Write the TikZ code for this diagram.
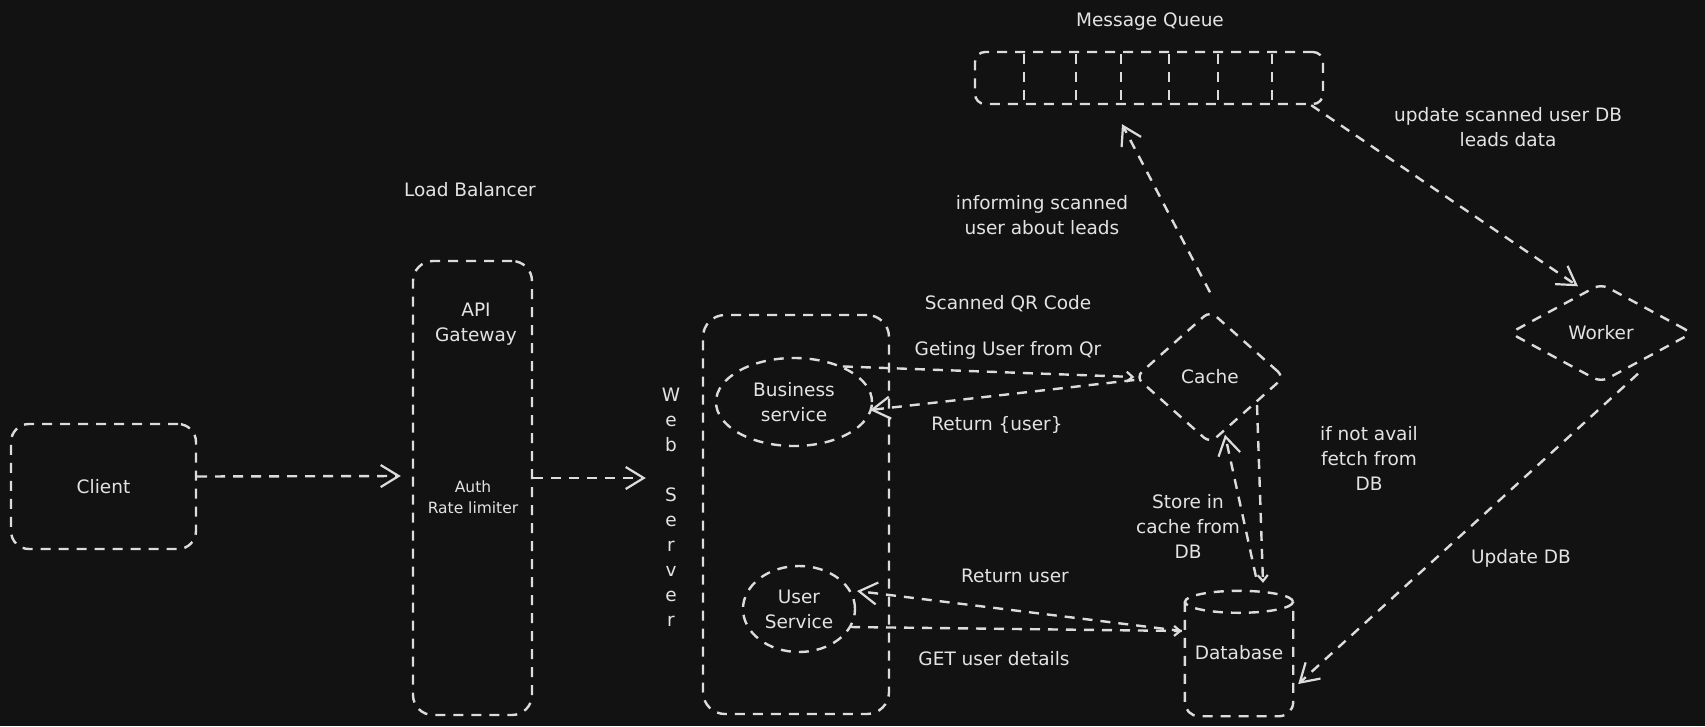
\documentclass[tikz,border=0pt]{standalone}
\usepackage{fontspec}
\setmainfont{DejaVu Sans}
\usetikzlibrary{arrows.meta,shapes.geometric,calc}
\definecolor{bg}{HTML}{121212}
\definecolor{ink}{HTML}{DCDCDC}
\definecolor{txt}{HTML}{E3E3E3}
\tikzset{
 dsh/.style={draw=ink, line width=2.4pt, dash pattern=on 10pt off 8pt},
 box/.style={dsh, rectangle, rounded corners=18pt, inner sep=0pt},
 lbl/.style={text=txt, font=\fontsize{18.5}{25}\selectfont, align=center, inner sep=0pt},
 slbl/.style={text=txt, font=\fontsize{15.5}{21}\selectfont, align=center, inner sep=0pt},
 arr/.style={dsh, -{Straight Barb[length=18pt,width=22pt,line width=2.2pt]}},
 sarr/.style={dsh, -{Straight Barb[length=6pt,width=10pt,line width=2.2pt]}},
}
\begin{document}
\begin{tikzpicture}[x=1pt,y=-1pt]
\fill[bg] (0,0) rectangle (1705,726);
\useasboundingbox (0,0) rectangle (1705,726);

% nodes
\node[box, minimum width=185pt, minimum height=125pt, lbl] (client) at (103.5,486.5) {Client};
\node[box, rounded corners=20pt, minimum width=119pt, minimum height=454pt] (api) at (472.5,488) {};
\node[box, rounded corners=22pt, minimum width=186pt, minimum height=399pt] (ws) at (796,514.5) {};
\node[dsh, ellipse, minimum width=156pt, minimum height=88pt, inner sep=0pt, lbl] (biz) at (794,402) {Business\\service};
\node[dsh, ellipse, minimum width=112pt, minimum height=86pt, inner sep=0pt, lbl] (usr) at (799,609) {User\\Service};
\node[dsh, diamond, rounded corners=8pt, minimum width=149pt, minimum height=133pt, inner sep=0pt, lbl] (cache) at (1210,377) {Cache};
\node[dsh, diamond, rounded corners=8pt, minimum width=183pt, minimum height=99pt, inner sep=0pt, lbl] (worker) at (1601,333) {Worker};
\node[box, rounded corners=10pt, minimum width=348pt, minimum height=52pt] (queue) at (1149,78) {};
\node[minimum width=108pt, minimum height=126pt, inner sep=0pt, lbl] (db) at (1239,653) {Database};

% queue cells
\foreach \qx in {1024,1076,1121,1169,1218,1272}
  \draw[dsh] (\qx,54) -- (\qx,102);

% database cylinder
\draw[dsh] ($(db.north)+(0,12)$) ellipse [x radius=54pt, y radius=11pt];
\draw[dsh, rounded corners=14pt] ($(db.north west)+(0,12)$) -- (db.south west) -- (db.south east) -- ($(db.north east)+(0,12)$);

% labels
\node[lbl] (lmq) at (1150,22) {Message Queue};
\node[lbl] (llb) at (470,190) {Load Balancer};
\node[lbl] (lapi) at (476,324) {API\\Gateway};
\node[slbl] (lauth) at (473,497) {Auth\\Rate limiter};
\node[lbl] (lws) at (671,507) {W\\e\\b\\[25pt]S\\e\\r\\v\\e\\r};
\node[lbl] (lqr) at (1008,304) {Scanned QR Code};
\node[lbl] (lget) at (1008,350) {Geting User from Qr};
\node[lbl] (lret) at (997,425) {Return \{user\}};
\node[lbl] (lretu) at (1015,576) {Return user};
\node[lbl] (lgetu) at (994,659) {GET user details};
\node[lbl] (linf) at (1042,215) {informing scanned\\user about leads};
\node[lbl] (lupd) at (1508,127) {update scanned user DB\\leads data};
\node[lbl] (lnot) at (1369,458) {if not avail\\fetch from\\DB};
\node[lbl] (lsto) at (1188,526) {Store in\\cache from\\DB};
\node[lbl] (lupdb) at (1521,558) {Update DB};

% connectors
\draw[arr] ([yshift=10pt]client.east) -- ([xshift=-11pt,yshift=12pt]api.west);
\draw[arr] ([yshift=10pt]api.east) -- ([xshift=-56pt,yshift=36.5pt]ws.west);
\draw[sarr] (biz.36) -- (cache.west);
\draw[arr] ([yshift=-3pt]cache.west) -- ([xshift=76pt,yshift=-8pt]biz.center);
\draw[arr] ([yshift=17pt]cache.north) -- ([xshift=-27pt,yshift=-19pt]queue.south);
\draw[arr] ([xshift=-13pt]queue.south east) -- ([xshift=-23pt,yshift=-4pt]worker.north);
\draw[arr] ([xshift=37pt,yshift=10pt]worker.south) -- ([xshift=5pt,yshift=-31pt]db.east);
\draw[sarr] ([xshift=47pt,yshift=-28pt]cache.center) -- ([xshift=24pt,yshift=7pt]db.north);
\draw[arr] ([xshift=17pt,yshift=13pt]db.north) -- ([xshift=15pt,yshift=10pt]cache.south);
\draw[arr] ([xshift=-3pt,yshift=22pt]db.west) -- ([xshift=58pt,yshift=18pt]usr.center);
\draw[sarr] ([xshift=51pt,yshift=-18pt]usr.center) -- ([xshift=-3pt,yshift=22pt]db.west);
\end{tikzpicture}
\end{document}
